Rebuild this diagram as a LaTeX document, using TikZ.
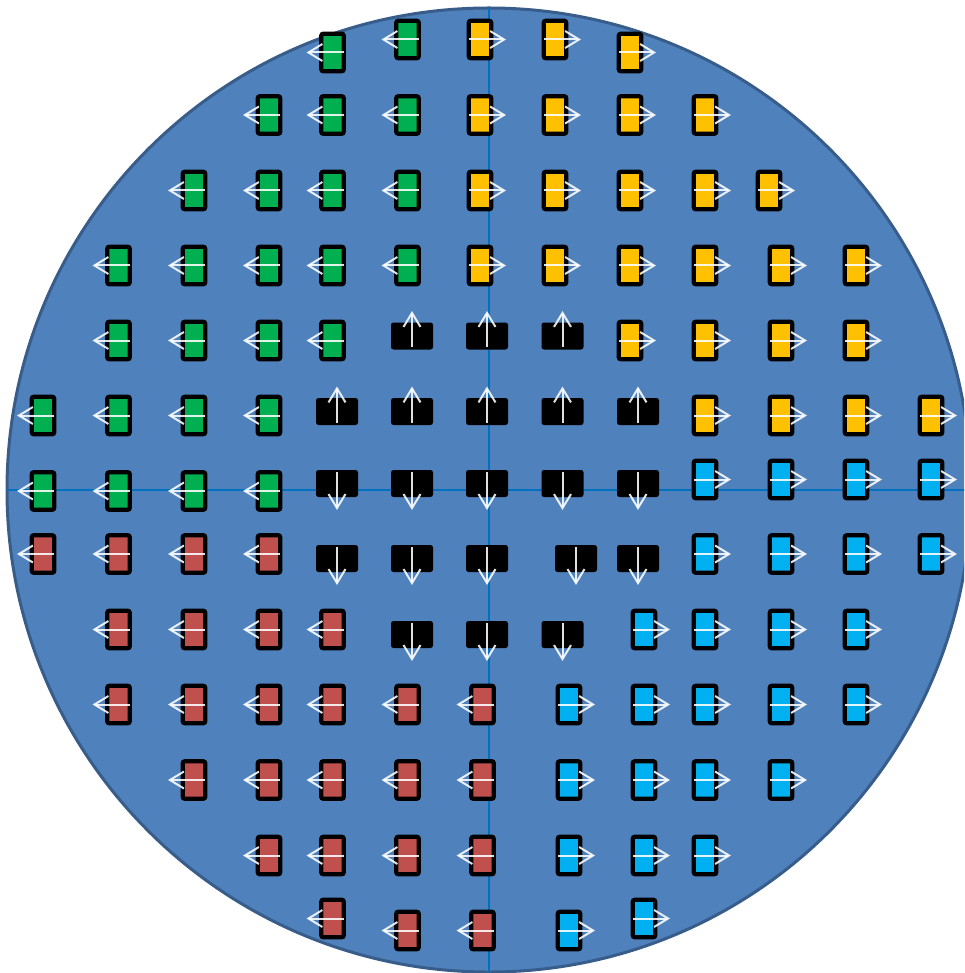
\documentclass[tikz,border=0pt]{standalone}
\usetikzlibrary{arrows.meta}
\definecolor{wblue}{HTML}{4F81BD}
\definecolor{wedge}{HTML}{385D8A}
\definecolor{axisc}{HTML}{0070C0}
\definecolor{grn}{HTML}{00B050}
\definecolor{org}{HTML}{FFC000}
\definecolor{redc}{HTML}{C0504D}
\definecolor{cyn}{HTML}{00B0F0}
\tikzset{
  chip/.style={draw=black, line width=4.2pt, rounded corners=2pt, minimum width=22.5pt, minimum height=37.5pt, inner sep=0pt},
  blk/.style={fill=black, rounded corners=2.5pt, minimum width=42pt, minimum height=27pt, inner sep=0pt},
  arr/.style={draw=white, draw opacity=0.88, line width=2pt, -{Straight Barb[length=14pt,width=17pt,line width=2pt]}},
  axisline/.style={draw=axisc, line width=1.3pt}
}
\begin{document}
\begin{tikzpicture}[x=1pt,y=-1pt]
\useasboundingbox (0,0) rectangle (964,973);
\clip (0,0) rectangle (964,973);
\node[circle, fill=wblue, draw=wedge, line width=3pt, minimum size=964pt, inner sep=0pt] (wafer) at (489,490) {};
\coordinate (vt) at (489,8); \coordinate (vb) at (489,972);
\coordinate (hl) at (7,490); \coordinate (hr) at (971,490);
\draw[axisline] (vt) -- (vb);
\draw[axisline] (hl) -- (hr);
% green (left arrows)
\foreach \x/\y [count=\i] in {332.5/52.5,407.5/39.5,
  269/115,332.5/115,407.5/115,
  194/190.5,269/190.5,332.5/190.5,407.5/190.5,
  118.5/265.5,194/265.5,269/265.5,332.5/265.5,407.5/265.5,
  118.5/340.5,194/340.5,269/340.5,332.5/340.5,
  43/415.5,118.5/415.5,194/415.5,269/415.5,
  43/491,118.5/491,194/491,269/491}{
  \node[chip, fill=grn] (g\i) at (\x,\y) {};
  \draw[arr] ([xshift=11pt]g\i.center) -- ([xshift=-26pt]g\i.center);
}
% red (left arrows)
\foreach \x/\y [count=\i] in {43/554,118.5/554,194/554,269/554,
  118.5/629.5,194/629.5,269/629.5,332.5/629.5,
  118.5/704.5,194/704.5,269/704.5,332.5/704.5,407.5/704.5,482.5/704.5,
  194/780,269/780,332.5/780,407.5/780,482.5/780,
  269/855.5,332.5/855.5,407.5/855.5,482.5/855.5,
  332.5/918.5,407.5/930.5,482.5/930.5}{
  \node[chip, fill=redc] (r\i) at (\x,\y) {};
  \draw[arr] ([xshift=11pt]r\i.center) -- ([xshift=-26pt]r\i.center);
}
% orange (right arrows)
\foreach \x/\y [count=\i] in {480/39.5,555/39.5,630/52.5,
  480/115,555/115,630/115,705/115,
  480/190.5,555/190.5,630/190.5,705/190.5,769/190.5,
  480/265.5,555/265.5,630/265.5,705/265.5,781/265.5,856/265.5,
  630/340.5,705/340.5,781/340.5,856/340.5,
  705/415.5,781/415.5,856/415.5,931/415.5}{
  \node[chip, fill=org] (o\i) at (\x,\y) {};
  \draw[arr] ([xshift=-11pt]o\i.center) -- ([xshift=26pt]o\i.center);
}
% cyan (right arrows)
\foreach \x/\y [count=\i] in {705/479.5,781/479.5,856/479.5,931/479.5,
  705/554,781/554,856/554,931/554,
  644/629.5,705/629.5,781/629.5,856/629.5,
  569/704.5,644/704.5,705/704.5,781/704.5,856/704.5,
  569/780,644/780,705/780,781/780,
  569/855.5,644/855.5,705/855.5,
  569/930.5,644/918.5}{
  \node[chip, fill=cyn] (c\i) at (\x,\y) {};
  \draw[arr] ([xshift=-11pt]c\i.center) -- ([xshift=26pt]c\i.center);
}
% black (up arrows)
\foreach \x/\y [count=\i] in {412/336,487/336,562.5/336,
  337/411.5,412/411.5,487/411.5,562.5/411.5,638/411.5}{
  \node[blk] (bu\i) at (\x,\y) {};
  \draw[arr] ([yshift=-11pt]bu\i.center) -- ([yshift=25pt]bu\i.center);
}
% black (down arrows)
\foreach \x/\y [count=\i] in {337/483.5,412/483.5,487/483.5,562.5/483.5,638/483.5,
  337/558.5,412/558.5,487/558.5,576/558.5,638/558.5,
  412/634.5,487/634.5,562.5/634.5}{
  \node[blk] (bd\i) at (\x,\y) {};
  \draw[arr] ([yshift=11.5pt]bd\i.center) -- ([yshift=-26.5pt]bd\i.center);
}
\end{tikzpicture}
\end{document}
